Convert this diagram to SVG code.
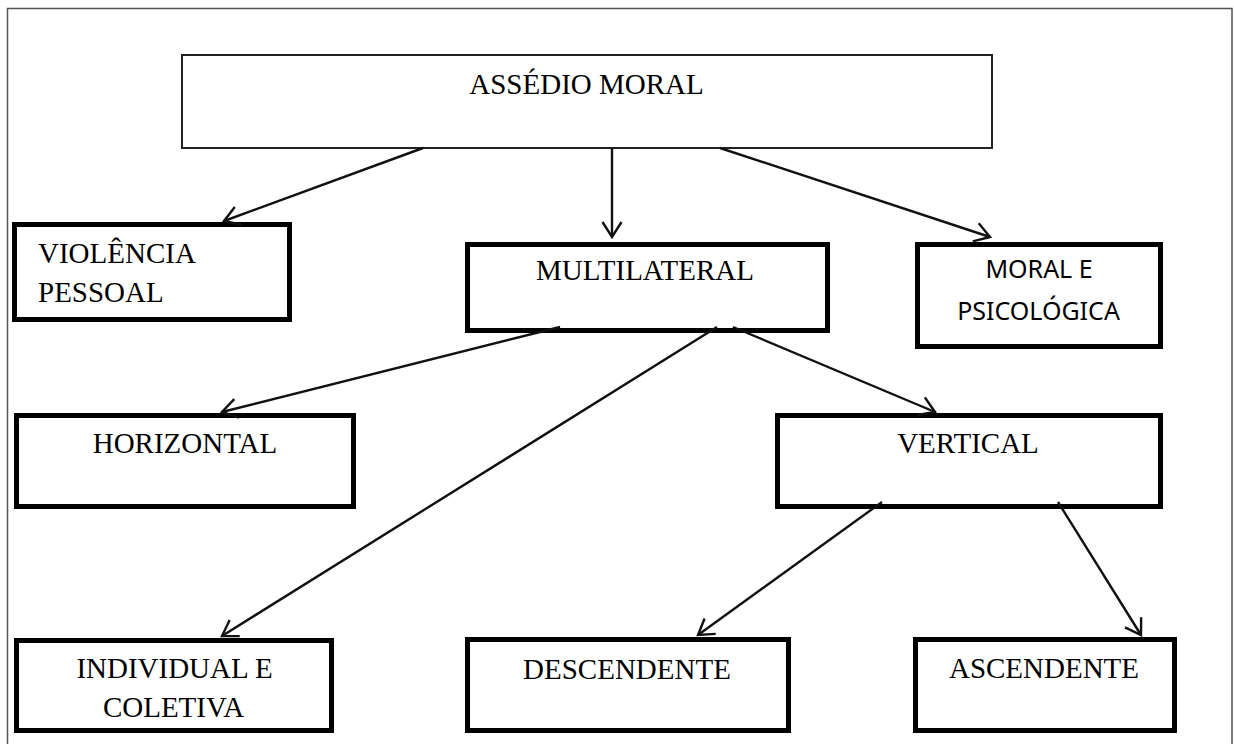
<svg xmlns="http://www.w3.org/2000/svg" width="1234" height="744" viewBox="0 0 1234 744">
  <style>
    .box { fill: #fff; stroke: #000; stroke-width: 5; }
    .top { fill: #fff; stroke: #222; stroke-width: 2; }
    .t { font-family: "Liberation Serif", "Times New Roman", serif; font-size: 29px; fill: #000; }
    .s { font-family: "Noto Sans", "Open Sans", sans-serif; font-size: 25px; fill: #000; }
    .c { text-anchor: middle; }
    .conn line { stroke: #111; stroke-width: 2.4; fill: none; marker-end: url(#arr); }
  </style>
  <defs>
    <marker id="arr" markerUnits="userSpaceOnUse" markerWidth="40" markerHeight="40" refX="0" refY="0" viewBox="-20 -20 40 40" orient="auto" overflow="visible">
      <path d="M-15,-9.5 L0,0 L-15,9.5" fill="none" stroke="#111" stroke-width="2.4"/>
    </marker>
  </defs>
  <rect width="1234" height="744" fill="#fff"/>
  <path d="M7.5,744 V8.5 H1232 V744" fill="none" stroke="#555" stroke-width="1.5"/>

  <g id="assedio-moral">
    <rect class="top" x="182" y="55" width="810" height="93"/>
    <text class="t c" x="586.5" y="94">ASSÉDIO MORAL</text>
  </g>
  <g id="violencia-pessoal">
    <rect class="box" x="14.5" y="224.5" width="275" height="95"/>
    <text class="t" x="38" y="263">VIOLÊNCIA</text>
    <text class="t" x="38" y="302">PESSOAL</text>
  </g>
  <g id="multilateral">
    <rect class="box" x="467.5" y="244.5" width="360" height="86"/>
    <text class="t c" x="645" y="280">MULTILATERAL</text>
  </g>
  <g id="moral-psicologica">
    <rect class="box" x="917.5" y="244.5" width="243" height="102"/>
    <text class="s c" x="1039" y="278">MORAL E</text>
    <text class="s c" x="1038.5" y="320">PSICOLÓGICA</text>
  </g>
  <g id="horizontal">
    <rect class="box" x="16.5" y="415.5" width="337" height="91"/>
    <text class="t c" x="185" y="453">HORIZONTAL</text>
  </g>
  <g id="vertical">
    <rect class="box" x="777.5" y="415.5" width="383" height="91"/>
    <text class="t c" x="968" y="453">VERTICAL</text>
  </g>
  <g id="individual-coletiva">
    <rect class="box" x="16.5" y="640.5" width="315" height="90"/>
    <text class="t c" x="174.5" y="678">INDIVIDUAL E</text>
    <text class="t c" x="173.5" y="717">COLETIVA</text>
  </g>
  <g id="descendente">
    <rect class="box" x="467.5" y="639.5" width="321" height="91"/>
    <text class="t c" x="627" y="679">DESCENDENTE</text>
  </g>
  <g id="ascendente">
    <rect class="box" x="915.5" y="639.5" width="259" height="91"/>
    <text class="t c" x="1044" y="678">ASCENDENTE</text>
  </g>

  <g id="connectors" class="conn">
    <line x1="423" y1="148" x2="224" y2="221"/>
    <line x1="612" y1="148" x2="612" y2="237"/>
    <line x1="720" y1="148" x2="990" y2="237"/>
    <line x1="560" y1="327" x2="222" y2="412"/>
    <line x1="717" y1="327" x2="222" y2="636"/>
    <line x1="733" y1="327" x2="935" y2="412"/>
    <line x1="882" y1="502" x2="698" y2="635"/>
    <line x1="1058" y1="502" x2="1141" y2="635"/>
  </g>
</svg>
